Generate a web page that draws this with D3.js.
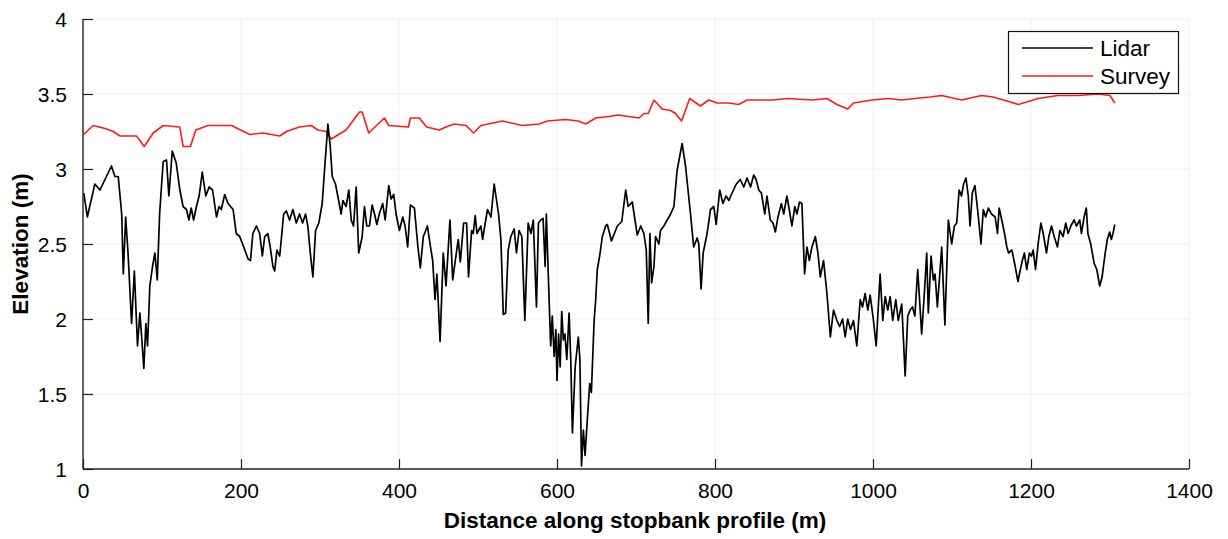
<!DOCTYPE html>
<html>
<head>
<meta charset="utf-8">
<script src="https://cdn.jsdelivr.net/npm/d3@7"></script>
<style>
  html, body { margin: 0; padding: 0; background: #fff; }
  svg { display: block; }
  text { font-family: "Liberation Sans", Arial, sans-serif; fill: #000; }
</style>
</head>
<body>
<div id="chart"></div>
<script>
// ---- Data ----
const lidarDist = [1,5.5,15,21.5,27.8,36,40.4,44.6,49,51,54,57,61.5,65,69,72,74,77,79.6,81.7,84.6,88,91,94,97,101.5,105.7,108.7,113,118,122.6,126.7,131,134,137,140,143.6,147,151,155.4,159.6,164,169,172.2,175,179.4,183.6,190,194,198.4,203.4,209,212,215,219.5,223.6,227,230,234,237,240.4,242.6,245.5,249,251,254,257.4,261.5,265.7,270,274,278,281.7,284.6,287.7,291,294.4,298.5,302.8,305.7,310,313,315.5,319.6,322.5,326.8,329,333,336.5,339.5,342.4,345.8,349,
353.4,356.3,359.2,362.6,366,369,372,375,379.4,382.5,387,390,393.3,396.3,400.5,404.7,407.7,411,414.4,419.5,423.6,427,430.8,436,439.3,442.6,445.6,448,452,456,459.5,464.5,468,471,475,477.6,481.8,485.6,488,491.9,494,496.5,498.7,503.7,505.8,512,516.4,520.5,526,529,532,535,538.2,541.6,545.8,548.7,552,555.5,559.3,563.5,567,570,574,576.5,579.5,582.4,
585,586.5,590,592,594,596.4,598.5,600,602,604,606,608,610,612.4,615.3,617.4,619.5,623,627,629,631,633.4,635.5,638.4,641.4,643.5,647,649,651,654,657.4,661.6,663.7,669,676.3,682,687,690,695.3,701.6,706,710,713,715.5,717.6,719.8,722.7,724.8,729,731,735.3,739.5,743.8,748,
752,758.4,762.7,769,773,777.4,779.5,782.4,785,790,794.3,798.5,801.5,806,810,814,817.5,821.6,827,832,836.4,840.6,845,849,852,855.4,858.7,863,865.8,870,873.4,876.4,879.7,884,887,891,894,897.4,901,903.7,907,910,913.4,916.4,919.4,922.7,927,930.3,933.3,937.4,941.7,946,950,954.3,957.7,961.5,964.8,968,971.5,975.3,979.5,983.8,986.7,990,993.4,996.4,1000.6,1004,1009,1012.4,1015.4,1018.7,1021.7,1025,1028.8,1032,1036.4,1040.7,1044,1047,1050,1053,1056.6,
1061.6,1065,1068,1070,1073.5,1076.4,1078.5,1081.5,1087,1091,1095.4,1099.6,1103,1106,1109,1112,1114.7,1117.7,1120.6,1122.8,1125.7,1129,1133,1136.7,1139.6,1142.6,1146,1150,1154.6,1157.6,1159.7,1163,1166.5,1169.4,1171.6,1175.8,1180,1183.5,1186.5,1189,1191.6,1194.6,1198,1200.6,1202.8,1205.7,1209,1212.5,1215.5,1219.6,1222.6,1226,1229.3,1233.5,1236.5,1240.6,1244,1247,1250.4,1254.6,1257.5,1261.7,1263.8,1267.2,1270,1272,1275.6,1280,1283.3,1287,1290,1293.4,1296.6,1299.6,1301.7,1303.8,1306];

const lidarElev = [2.84,2.68,2.90,2.86,2.93,3.02,2.95,2.95,2.70,2.30,2.68,2.44,1.97,2.32,1.82,2.04,1.90,1.67,1.97,1.82,2.22,2.35,2.44,2.26,2.70,3.05,3.06,2.82,3.12,3.04,2.86,2.75,2.73,2.66,2.74,2.66,2.75,2.82,2.98,2.82,2.88,2.86,2.68,2.75,2.73,2.83,2.77,2.73,2.57,2.55,2.48,2.40,2.39,2.57,2.62,2.57,2.42,2.55,2.57,2.48,2.35,2.32,2.46,2.42,2.53,2.70,2.72,2.66,2.73,2.64,2.70,2.64,2.70,2.62,2.44,2.28,2.59,2.64,2.77,2.99,3.30,3.15,2.95,2.90,2.82,2.70,2.79,2.75,2.86,2.66,2.62,2.88,2.44,
2.55,2.75,2.62,2.62,2.76,2.70,2.63,2.70,2.77,2.66,2.89,2.80,2.83,2.70,2.59,2.68,2.62,2.48,2.76,2.74,2.50,2.34,2.55,2.62,2.50,2.39,2.13,2.30,1.85,2.44,2.22,2.66,2.26,2.38,2.53,2.38,2.64,2.64,2.28,2.59,2.57,2.69,2.57,2.62,2.53,2.73,2.68,2.90,2.70,2.53,2.03,2.04,2.46,2.55,2.60,2.44,2.59,2.55,1.99,2.64,2.57,2.66,2.08,2.64,2.66,2.67,
2.35,2.70,2.13,1.82,2.02,1.75,1.93,1.59,1.90,1.68,2.05,1.86,1.90,1.73,2.04,1.73,1.24,1.68,1.88,1.73,1.02,1.26,1.09,1.33,1.57,1.51,1.99,2.13,2.33,2.42,2.55,2.62,2.63,2.52,2.62,2.65,2.86,2.75,2.78,2.56,2.62,2.57,2.46,1.97,2.57,2.24,2.35,2.55,2.50,2.59,2.62,2.66,2.70,2.75,
2.99,3.17,3.02,2.70,2.48,2.54,2.50,2.20,2.44,2.57,2.73,2.75,2.63,2.86,2.77,2.82,2.79,2.84,2.90,2.93,2.88,2.94,2.88,2.96,2.93,2.86,2.84,2.70,2.82,2.66,2.64,2.58,2.68,2.77,2.70,2.82,2.73,2.62,2.75,2.70,2.78,2.77,2.30,2.48,2.39,2.48,2.55,2.44,2.28,2.39,2.17,1.88,2.06,1.99,1.95,2.00,1.88,2.00,1.93,1.99,1.82,2.13,2.08,2.17,2.06,2.16,1.99,1.82,2.30,1.99,2.15,2.06,2.15,1.99,2.13,1.99,2.10,1.62,2.02,2.06,2.08,2.02,2.33,
1.90,2.17,2.44,2.04,2.42,2.26,2.30,2.08,2.48,1.96,2.66,2.50,2.62,2.64,2.86,2.82,2.90,2.94,2.82,2.62,2.84,2.89,2.70,2.50,2.73,2.68,2.74,2.70,2.68,2.57,2.74,2.66,2.57,2.48,2.44,2.46,2.35,2.25,2.33,2.39,2.44,2.33,2.44,2.42,2.46,2.33,2.50,2.64,2.57,2.44,2.55,2.62,2.55,2.48,2.59,2.55,2.64,2.57,2.62,2.66,2.62,2.66,2.57,2.68,2.74,2.57,2.50,2.37,2.33,2.22,2.28,2.42,2.53,2.58,2.53,2.57,2.63];

const surveyDist = [1,6.7,13,28,38.3,46.7,67.8,77.5,88.8,101.5,122.5,126.7,136,142.8,158.3,188,211,228,249,257.4,274,289,297.4,308,314,320.5,333,350,353.4,361.7,381.5,387,412,414.4,425.8,435,451,459.5,470,484.8,494.4,503.7,531,556,577.4,588,611,627,636.4,649,665.8,677.6,703.7,710,715.5,722.7,733,743.8,750,757.7,768,781.6,792,802.7,817.5,830,840.6,872,893,922.7,941.7,954.3,968,975.3,998.5,1019.7,1036.4,1053,1072,1087,1112,1137.5,1152,1171.6,1184,1209,1234,1259.6,1285,1300,1306];
const surveyElev = [3.23,3.26,3.29,3.27,3.25,3.22,3.22,3.15,3.24,3.29,3.28,3.15,3.15,3.26,3.29,3.29,3.23,3.24,3.22,3.25,3.28,3.29,3.26,3.25,3.20,3.22,3.26,3.38,3.38,3.24,3.34,3.29,3.28,3.34,3.34,3.28,3.26,3.28,3.30,3.29,3.24,3.29,3.32,3.29,3.30,3.32,3.33,3.32,3.30,3.34,3.35,3.36,3.34,3.37,3.37,3.46,3.40,3.39,3.37,3.32,3.47,3.42,3.46,3.44,3.44,3.43,3.46,3.46,3.47,3.46,3.47,3.43,3.40,3.44,3.46,3.47,3.46,3.47,3.48,3.49,3.46,3.49,3.48,3.45,3.43,3.47,3.49,3.49,3.50,3.49,3.44];

const xTicks = [0,200,400,600,800,1000,1200,1400];
const yTicks = [1,1.5,2,2.5,3,3.5,4];
const seriesNames = ["Lidar","Survey"];
const seriesColors = ["#000000","#ff1a1a"];
const xTitle = "Distance along stopbank profile (m)";
const yTitle = "Elevation (m)";

// ---- Layout ----
const W = 1228, H = 539;
const plot = {left: 83, right: 1189, top: 19, bottom: 469};

const svg = d3.select("#chart").append("svg").attr("width", W).attr("height", H);

const x = d3.scaleLinear().domain([0,1400]).range([plot.left, plot.right]);
const y = d3.scaleLinear().domain([1,4]).range([plot.bottom, plot.top]);

// very faint gridlines
const grid = svg.append("g");
grid.selectAll("line.vg").data(xTicks.slice(1)).enter().append("line")
  .attr("x1", d => x(d)).attr("x2", d => x(d)).attr("y1", plot.top).attr("y2", plot.bottom)
  .attr("stroke", "#f4f4f4").attr("stroke-width", 1.5);
grid.selectAll("line.hg").data(yTicks.slice(1)).enter().append("line")
  .attr("x1", plot.left).attr("x2", plot.right).attr("y1", d => y(d)).attr("y2", d => y(d))
  .attr("stroke", "#f5f5f5").attr("stroke-width", 1.5);

// lines
const lidar = lidarDist.map((d,i) => [d, lidarElev[i]]);
const survey = surveyDist.map((d,i) => [d, surveyElev[i]]);
const line = d3.line().x(d => x(d[0])).y(d => y(d[1]));

svg.append("path").datum(survey).attr("d", line)
  .attr("fill","none").attr("stroke", seriesColors[1]).attr("stroke-width",1.6).attr("stroke-linejoin","round");
svg.append("path").datum(lidar).attr("d", line)
  .attr("fill","none").attr("stroke", seriesColors[0]).attr("stroke-width",1.7).attr("stroke-linejoin","round");

// axes
const xAxis = d3.axisBottom(x).tickValues(xTicks).tickSize(-10).tickPadding(14).tickFormat(d3.format("d"));
const yAxis = d3.axisLeft(y).tickValues(yTicks).tickSize(-10).tickPadding(16).tickFormat(d => d3.format("")(d));

const gx = svg.append("g").attr("transform", `translate(0,${plot.bottom})`).call(xAxis);
const gy = svg.append("g").attr("transform", `translate(${plot.left},0)`).call(yAxis);
[gx, gy].forEach(g => {
  g.select(".domain").attr("stroke", "#222").attr("stroke-width", 1.4);
  g.selectAll(".tick line").attr("stroke", "#222").attr("stroke-width", 1.2);
  g.selectAll(".tick text").attr("font-family", "Liberation Sans, Arial, sans-serif").attr("font-size", 21).attr("fill", "#000");
});
gx.select(".domain").attr("d", `M${plot.left},0H${plot.right}`);
gy.select(".domain").attr("d", `M0,${plot.bottom}V${plot.top}`);
gy.selectAll(".tick text").attr("dy", "0.36em");
gx.selectAll(".tick text").attr("dy", "0.72em");

// axis titles
svg.append("text").attr("x", (plot.left + plot.right) / 2 - 1).attr("y", 528)
  .attr("text-anchor","middle").attr("font-weight","bold").attr("font-size", 22.5).text(xTitle);
svg.append("text").attr("transform", `translate(28,${(plot.top + plot.bottom) / 2}) rotate(-90)`)
  .attr("text-anchor","middle").attr("font-weight","bold").attr("font-size", 22.5).text(yTitle);

// legend
const lg = svg.append("g");
lg.append("rect").attr("x", 1008.5).attr("y", 31.5).attr("width", 170).attr("height", 62)
  .attr("fill", "#fff").attr("stroke", "#111").attr("stroke-width", 1.2);
seriesNames.forEach((name, i) => {
  const yy = 48 + i * 28;
  lg.append("line").attr("x1", 1022).attr("x2", 1093).attr("y1", yy).attr("y2", yy)
    .attr("stroke", seriesColors[i]).attr("stroke-width", 1.5);
  lg.append("text").attr("x", 1100).attr("y", yy + 8).attr("font-size", 22.5).text(name);
});
</script>
</body>
</html>
